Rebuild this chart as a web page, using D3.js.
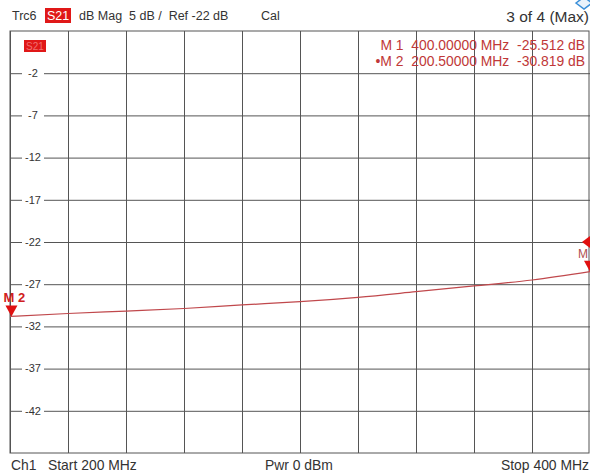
<!DOCTYPE html>
<html>
<head>
<meta charset="utf-8">
<script src="https://cdn.jsdelivr.net/npm/d3@7"></script>
<style>
  body { margin: 0; background: #fff; }
  svg { font-family: "Liberation Sans", Arial, sans-serif; }
</style>
</head>
<body>
<div id="chart"></div>
<script>
// trace S21, every 20 MHz
let freqs = [200, 220, 240, 260, 280, 300, 320, 340, 360, 380, 400];
let s21 = [-30.819, -30.47, -30.18, -29.88, -29.46, -29.07, -28.55, -27.89, -27.21, -26.50, -25.512];
let yTicks = [-2, -7, -12, -17, -22, -27, -32, -37, -42];
let markers = [
  { name: "M 1", f: 400.0, v: -25.512, label: "M 1  400.00000 MHz  -25.512 dB" },
  { name: "M 2", f: 200.5, v: -30.819, label: "\u2022M 2  200.50000 MHz  -30.819 dB" }
];

let width = 590, height = 475;
let pLeft = 10, pRight = 590, pTop = 31, pBottom = 453;

let x = d3.scaleLinear().domain([200, 400]).range([pLeft, pRight]);
let y = d3.scaleLinear().domain([3, -47]).range([pTop, pBottom]);

let svg = d3.select("#chart").append("svg")
  .attr("width", width)
  .attr("height", height);

// grid
svg.append("g")
  .attr("transform", "translate(0," + pBottom + ")")
  .call(d3.axisBottom(x).ticks(10).tickSize(-(pBottom - pTop)).tickFormat(""))
  .call(g => g.select(".domain").remove())
  .selectAll("line").attr("stroke", "#555");

svg.append("g")
  .attr("transform", "translate(" + pLeft + ",0)")
  .call(d3.axisLeft(y).tickValues(yTicks).tickSize(-(pRight - pLeft)).tickFormat(""))
  .call(g => g.select(".domain").remove())
  .selectAll("line").attr("stroke", "#555");

svg.append("rect")
  .attr("x", pLeft).attr("y", pTop)
  .attr("width", pRight - pLeft - 1).attr("height", pBottom - pTop)
  .attr("fill", "none").attr("stroke", "#555");

// y labels sit on the grid with a white patch
let lab = svg.append("g").selectAll("g")
  .data(yTicks)
  .enter().append("g")
  .attr("transform", d => "translate(33," + y(d) + ")");
lab.append("rect")
  .attr("x", -11).attr("y", -6).attr("width", 22).attr("height", 12)
  .attr("fill", "#fff");
lab.append("text")
  .attr("text-anchor", "middle")
  .attr("dy", "0.35em")
  .attr("font-size", 11)
  .attr("fill", "#333")
  .text(d => d);

// trace
let data = freqs.map((f, i) => ({ f: f, v: s21[i] }));
svg.append("path")
  .datum(data)
  .attr("fill", "none")
  .attr("stroke", "#c0484c")
  .attr("stroke-width", 1.2)
  .attr("d", d3.line().x(d => x(d.f)).y(d => y(d.v)).curve(d3.curveMonotoneX));

// markers
let mk = svg.append("g");
mk.selectAll("path")
  .data(markers)
  .enter().append("path")
  .attr("fill", "#e01010")
  .attr("d", d => {
    let px = x(d.f), py = y(d.v);
    return "M" + (px - 6) + "," + (py - 11) + "L" + (px + 6) + "," + (py - 11) + "L" + px + "," + py + "Z";
  });
mk.append("text")
  .attr("x", x(200.5) - 8).attr("y", y(-30.819) - 14)
  .attr("font-size", 13).attr("font-weight", "bold").attr("fill", "#d02020")
  .text("M 2");
mk.append("text")
  .attr("x", x(400) - 2).attr("y", y(-25.512) - 14)
  .attr("text-anchor", "end")
  .attr("font-size", 12).attr("fill", "#b05050")
  .text("M");
// reference level arrow at -22 dB
svg.append("path")
  .attr("fill", "#e01010")
  .attr("d", "M" + (pRight - 8) + "," + y(-22) + "L" + pRight + "," + (y(-22) - 6) + "L" + pRight + "," + (y(-22) + 6) + "Z");

// marker readout
svg.append("g").selectAll("text")
  .data(markers)
  .enter().append("text")
  .attr("x", 585)
  .attr("y", (d, i) => 50 + i * 16)
  .attr("text-anchor", "end")
  .attr("font-size", 13.9)
  .attr("fill", "#c03838")
  .style("white-space", "pre")
  .text(d => d.label);

// trace tag inside plot
svg.append("rect").attr("x", 24).attr("y", 40).attr("width", 22).attr("height", 12).attr("fill", "#e01818");
svg.append("text").attr("x", 35).attr("y", 50).attr("text-anchor", "middle")
  .attr("font-size", 10).attr("fill", "#f07070").text("S21");

// header
let head = svg.append("g").attr("font-size", 12.5).attr("fill", "#333");
head.append("text").attr("x", 12).attr("y", 20).text("Trc6");
head.append("rect").attr("x", 45).attr("y", 8).attr("width", 26).attr("height", 15).attr("fill", "#e01818");
head.append("text").attr("x", 58).attr("y", 20).attr("text-anchor", "middle").attr("fill", "#fff").text("S21");
head.append("text").attr("x", 79).attr("y", 20).style("white-space", "pre").text("dB Mag  5 dB /  Ref -22 dB");
head.append("text").attr("x", 261).attr("y", 20).text("Cal");
head.append("text").attr("x", 589).attr("y", 22).attr("text-anchor", "end").attr("font-size", 15.5).text("3 of 4 (Max)");

// small icon in the corner
svg.append("path")
  .attr("d", "M576,3 L584,-3 L592,3 L584,9 Z")
  .attr("fill", "#e8f2fb").attr("stroke", "#3a8fd8").attr("stroke-width", 1.5);

// footer
let foot = svg.append("g").attr("font-size", 13.9).attr("fill", "#333").style("white-space", "pre");
foot.append("text").attr("x", 11).attr("y", 470).text("Ch1");
foot.append("text").attr("x", 48).attr("y", 470).text("Start  200 MHz");
foot.append("text").attr("x", 265).attr("y", 470).text("Pwr  0 dBm");
foot.append("text").attr("x", 589).attr("y", 470).attr("text-anchor", "end").text("Stop  400 MHz");
</script>
</body>
</html>
